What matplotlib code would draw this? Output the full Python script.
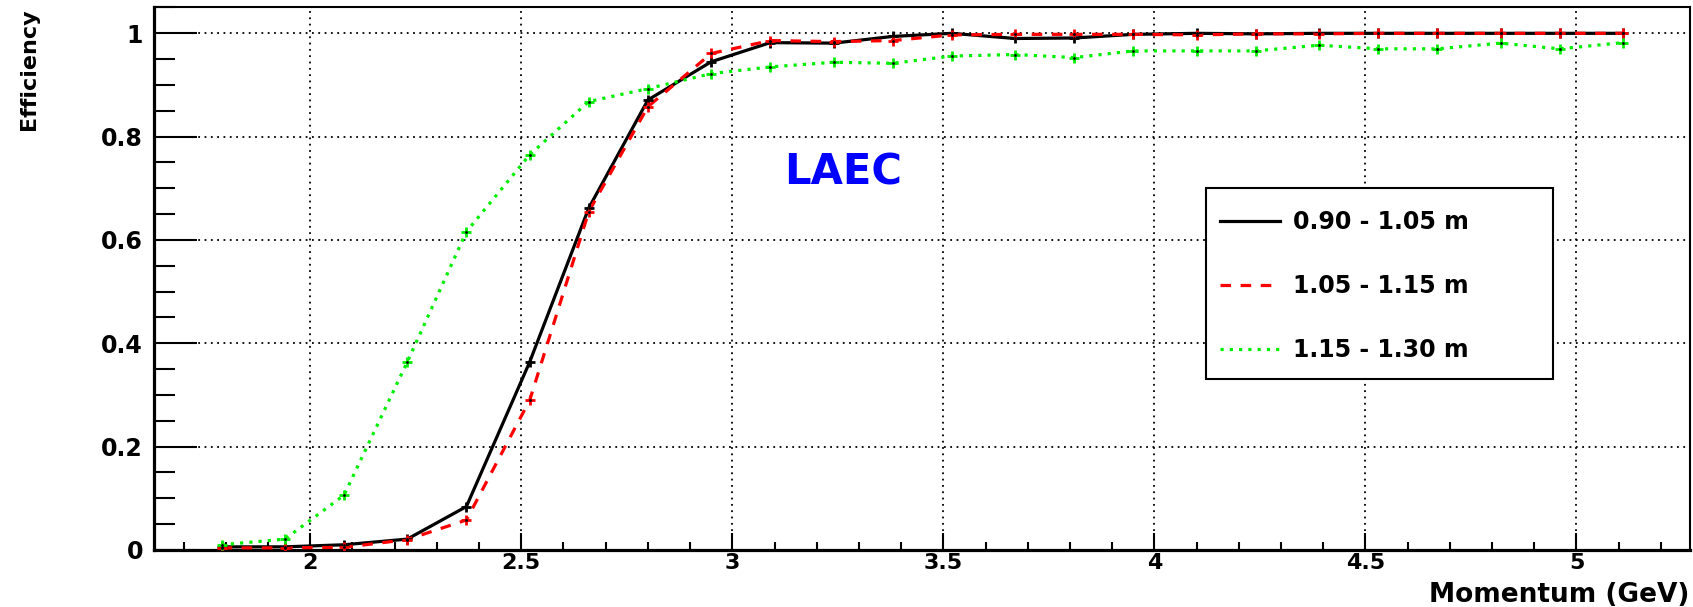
import numpy as np
import matplotlib.pyplot as plt
from matplotlib.ticker import MultipleLocator, FormatStrFormatter
from matplotlib.patches import Rectangle

# momentum bin centres (GeV)
momentum = [1.79, 1.94, 2.08, 2.23, 2.37, 2.52, 2.66, 2.80, 2.95, 3.09, 3.24, 3.38,
            3.52, 3.67, 3.81, 3.95, 4.10, 4.24, 4.39, 4.53, 4.67, 4.82, 4.96, 5.11]

# efficiency per distance band
eff_090_105 = [0.006, 0.006, 0.010, 0.021, 0.084, 0.364, 0.662, 0.871, 0.945, 0.982, 0.981, 0.994,
               1.000, 0.990, 0.991, 0.998, 1.000, 0.999, 1.000, 1.000, 1.000, 1.000, 1.000, 1.000]
eff_105_115 = [0.004, 0.004, 0.005, 0.020, 0.058, 0.290, 0.655, 0.858, 0.961, 0.986, 0.984, 0.986,
               0.997, 0.998, 0.998, 0.998, 0.997, 0.999, 0.999, 1.000, 1.000, 1.000, 1.000, 1.000]
eff_115_130 = [0.010, 0.021, 0.106, 0.364, 0.616, 0.765, 0.868, 0.893, 0.922, 0.935, 0.944, 0.942,
               0.956, 0.959, 0.953, 0.966, 0.966, 0.966, 0.977, 0.970, 0.970, 0.981, 0.970, 0.982]

labels = ['0.90 - 1.05 m', '1.05 - 1.15 m', '1.15 - 1.30 m']

fig = plt.figure(figsize=(16.93, 6.07), dpi=100)
ax = fig.add_axes([0.091, 0.094, 0.907, 0.8945])

series = [
    (eff_090_105, 'black', '-'),
    (eff_105_115, '#ff0000', (0, (3.3, 3.0))),
    (eff_115_130, '#00ee00', (0, (1.0, 1.9))),
]
for (y, c, ls), lab in zip(series, labels):
    ax.plot(momentum, y, color=c, ls=ls, lw=2.3, label=lab, zorder=3)
    ax.plot(momentum, y, ls='none', marker='+', ms=7, mew=2, color=c, zorder=4)
    ax.plot(momentum, y, ls='none', marker='.', ms=2, color='black', zorder=5)

ax.set_xlim(1.63, 5.268)
ax.set_ylim(0, 1.051)

ax.xaxis.set_major_locator(MultipleLocator(0.5))
ax.xaxis.set_minor_locator(MultipleLocator(0.1))
ax.xaxis.set_major_formatter(FormatStrFormatter('%g'))
ax.yaxis.set_major_locator(MultipleLocator(0.2))
ax.yaxis.set_minor_locator(MultipleLocator(0.05))
ax.yaxis.set_major_formatter(FormatStrFormatter('%g'))

ax.tick_params(axis='both', which='both', direction='in', width=1.5,
               top=False, right=False)
ax.tick_params(axis='y', which='major', length=31, pad=8, labelsize=17)
ax.tick_params(axis='y', which='minor', length=15)
ax.tick_params(axis='x', which='major', length=12, pad=2, labelsize=16)
ax.tick_params(axis='x', which='minor', length=6)
for t in ax.get_xticklabels() + ax.get_yticklabels():
    t.set_fontweight('bold')

for side in ['left', 'bottom']:
    ax.spines[side].set_linewidth(2.3)
for side in ['top', 'right']:
    ax.spines[side].set_linewidth(1.5)

ax.grid(True, which='major', color='black', lw=1.3, ls=(0, (1, 2.5)))
ax.set_axisbelow(True)

fig.text(0.998, 0.008, 'Momentum (GeV)', ha='right', va='baseline',
         fontsize=19, fontweight='bold')
fig.text(0.017, 0.987, 'Efficiency', ha='center', va='top', rotation=90,
         fontsize=16, fontweight='bold')

ax.text(3.263, 0.73, 'LAEC', color='#0000ff', fontsize=30, fontweight='bold',
        ha='center', va='center')

# legend box drawn separately so it can be wider than its entries
ax.add_patch(Rectangle((0.685, 0.315), 0.226, 0.351, transform=ax.transAxes,
                       facecolor='white', edgecolor='black', lw=1.5, zorder=6))
leg = ax.legend(loc='upper left', bbox_to_anchor=(0.694, 0.626),
                prop={'weight': 'bold', 'size': 17}, frameon=False,
                handlelength=2.54, labelspacing=1.69, borderpad=0,
                handletextpad=0.55, borderaxespad=0)
leg.set_zorder(7)

fig.savefig('out.png', dpi=100)
